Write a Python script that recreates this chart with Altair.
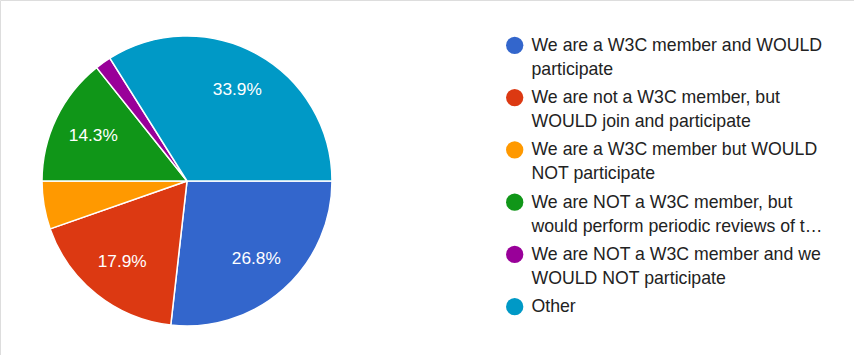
import math
import altair as alt
import pandas as pd

# Survey answers (responses out of 56)
categories = [
    "We are a W3C member and WOULD\nparticipate",
    "We are not a W3C member, but\nWOULD join and participate",
    "We are a W3C member but WOULD\nNOT participate",
    "We are NOT a W3C member, but\nwould perform periodic reviews of t\u2026",
    "We are NOT a W3C member and we\nWOULD NOT participate",
    "Other",
]
counts = [15, 10, 3, 8, 1, 19]
colors = ["#3366cc", "#dc3912", "#ff9900", "#109618", "#990099", "#0099c6"]

total = sum(counts)
df = pd.DataFrame({
    "category": categories,
    "count": counts,
    "idx": list(range(len(categories))),
})
df["pct"] = df["count"] / total
df["plabel"] = [f"{p*100:.1f}%" if p >= 0.1 else "" for p in df["pct"]]

CX, CY, R = 187, 181, 145
start = math.pi / 2

color = alt.Color("category:N", scale=alt.Scale(domain=categories, range=colors), legend=None)
theta = alt.Theta("count:Q", stack=True, scale=alt.Scale(range=[start, start + 2 * math.pi]))

base = alt.Chart(df)

arcs = base.mark_arc(outerRadius=R, stroke="white", strokeWidth=1.5).encode(
    theta=theta,
    color=color,
    order=alt.Order("idx:Q"),
    x=alt.value(CX),
    y=alt.value(CY),
)

plabels = base.mark_text(
    radius=104, color="white", fontSize=17.3, font="Liberation Sans, Arial",
    align="center", baseline="middle",
).encode(
    theta=theta,
    text="plabel:N",
    order=alt.Order("idx:Q"),
    x=alt.value(CX),
    y=alt.value(CY),
)

ypos = alt.Y("category:N", sort=categories,
             scale=alt.Scale(type="point", domain=categories, range=[45.3, 306.7], padding=0),
             axis=None)

dots = base.mark_point(filled=True, shape="circle", size=300, opacity=1).encode(
    x=alt.value(514.7),
    y=ypos,
    color=color,
)

ltext = base.mark_text(
    align="left", baseline="top", fontSize=17.7, font="Liberation Sans, Arial",
    color="#222222", lineBreak="\n", lineHeight=24.2, dy=-8.6,
).encode(
    x=alt.value(531.5),
    y=ypos,
    text="category:N",
)

chart = alt.layer(arcs, plabels, dots, ltext).properties(
    width=854, height=355,
    autosize=alt.AutoSizeParams(type="none"),
    padding=0,
).configure_view(stroke=None).configure(background="white")

chart.save("out.html", embed_options={"renderer": "svg", "actions": False})
